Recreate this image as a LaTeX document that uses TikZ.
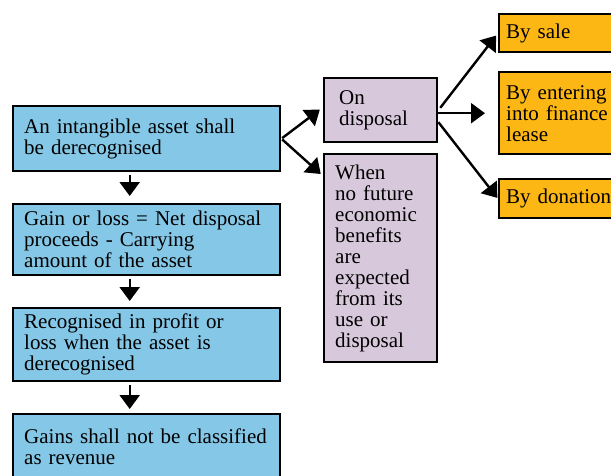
\documentclass[tikz,border=0pt]{standalone}
\usepackage{fontspec}
\setmainfont{Liberation Serif}
\usetikzlibrary{arrows.meta}
\definecolor{boxblue}{RGB}{133,199,230}
\definecolor{lilac}{RGB}{216,200,220}
\definecolor{amber}{RGB}{252,183,21}
\tikzset{
  box/.style={draw, line width=2.4pt, anchor=north west, align=left,
    inner xsep=10pt, font=\fontsize{21}{21}\selectfont},
  stepbox/.style={box, fill=boxblue, minimum width=267pt, text width=245pt},
  casebox/.style={box, fill=lilac, minimum width=113pt},
  waybox/.style={box, fill=amber, minimum width=140pt, inner xsep=6pt, text width=126pt},
  flow/.style={line width=2.4pt, -{Triangle[length=14pt,width=20pt]}}
}
\begin{document}
\begin{tikzpicture}[x=1pt,y=-1pt]
  \useasboundingbox (0,0) rectangle (611,475);
  \clip (0,0) rectangle (611,475);

  % Main column
  \node[stepbox, minimum height=65pt] (derecog) at (12,105) {An intangible asset shall\\be derecognised};
  \node[stepbox, minimum height=71pt] (gainloss) at (12,203) {Gain or loss = Net disposal\\proceeds - Carrying\\amount of the asset};
  \node[stepbox, minimum height=73pt] (profit) at (12,307) {Recognised in profit or\\loss when the asset is\\derecognised};
  \node[stepbox, minimum height=65pt] (revenue) at (12,413) {Gains shall not be classified\\as revenue};

  % When
  \node[casebox, minimum height=64pt, inner xsep=15pt, text width=83pt] (ondisp) at (323,77) {On\\disposal};
  \node[casebox, minimum height=208pt, inner xsep=11pt, text width=91pt] (nobenefit) at (323,153) {When\\no future\\economic\\benefits\\are\\expected\\from its\\use or\\disposal};

  % Ways of disposal
  \node[waybox, minimum height=38pt] (sale) at (498,13) {By sale};
  \node[waybox, minimum height=82pt] (lease) at (498,71) {By entering\\into finance\\lease};
  \node[waybox, minimum height=39pt] (donation) at (498,178) {By donation};

  % Arrows down
  \draw[flow, shorten <=3pt, shorten >=7pt] ([xshift=-17pt]derecog.south) -- ([xshift=-17pt]gainloss.north);
  \draw[flow, shorten <=3pt, shorten >=6pt] ([xshift=-17pt]gainloss.south) -- ([xshift=-17pt]profit.north);
  \draw[flow, shorten <=3pt, shorten >=4pt] ([xshift=-17pt]profit.south) -- ([xshift=-17pt]revenue.north);

  % Arrows to the right
  \draw[flow, shorten <=1pt, shorten >=4pt] (derecog.east) -- ([yshift=3pt]ondisp.west);
  \draw[flow, shorten <=1pt, shorten >=3pt] (derecog.east) -- ([yshift=-23pt]nobenefit.north west);
  \draw[flow, shorten <=3pt, shorten >=3pt] (ondisp.east) -- (sale.west);
  \draw[flow, shorten >=13pt] ([yshift=-3pt]ondisp.east) -- (lease.west);
  \draw[flow, shorten >=1pt] ([yshift=-12pt]ondisp.east) -- (donation.west);
\end{tikzpicture}
\end{document}
